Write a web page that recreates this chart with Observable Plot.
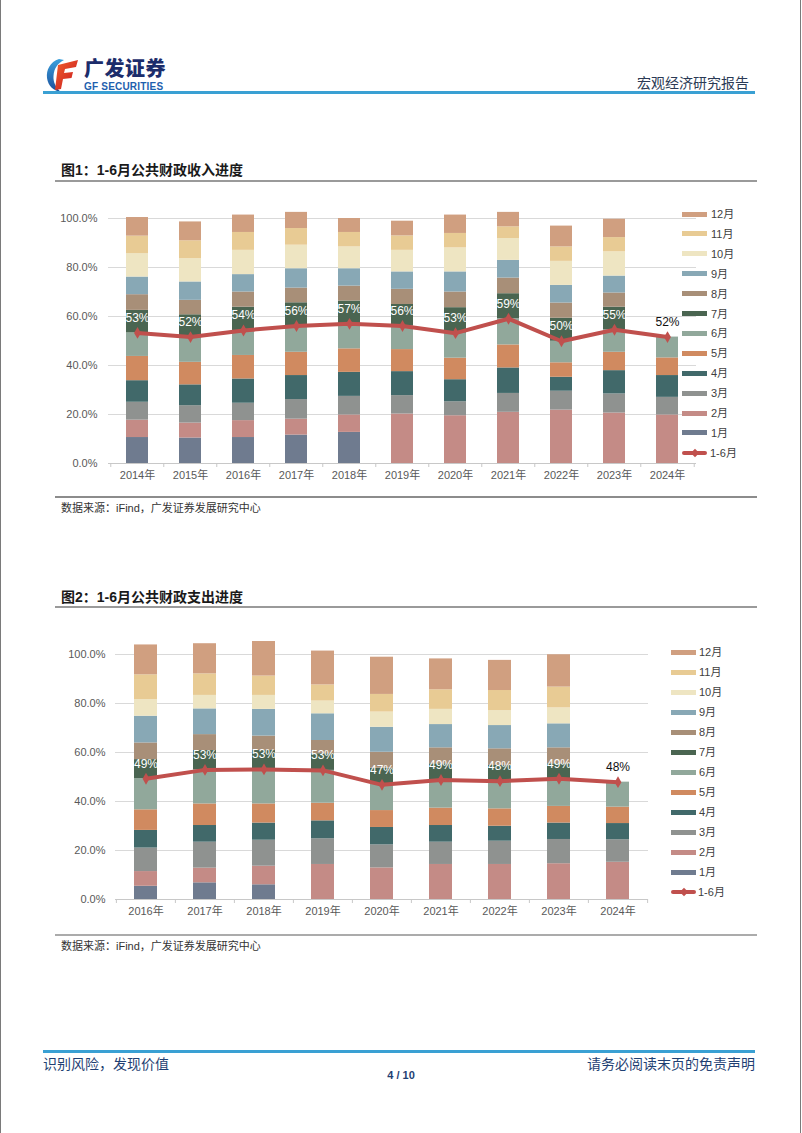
<!DOCTYPE html>
<html><head><meta charset="utf-8">
<script src="https://cdn.jsdelivr.net/npm/d3@7"></script>
<script src="https://cdn.jsdelivr.net/npm/@observablehq/plot@0.6"></script>
<style>
body{margin:0;background:#fff;}
#page{position:relative;width:802px;height:1133px;overflow:hidden;font-family:"Liberation Sans","Noto Sans CJK SC",sans-serif;color:#222;}
.a{position:absolute;white-space:nowrap;}
.sw{position:absolute;height:5px;width:25px;}
.lg{position:absolute;font-size:11px;line-height:14px;color:#404040;white-space:nowrap;}
svg{overflow:visible;}
</style></head><body><div id="page"></div>
<script>
// ---------- data ----------
const months = ["1月","2月","3月","4月","5月","6月","7月","8月","9月","10月","11月","12月"];
const monthColors = ["#6f7b8f","#c48b86","#8f9290","#41696a","#d08a60","#91a89b","#4a6551","#a88f78","#88a8b5","#eee5c2","#e8cb94","#d09f80"];
const lineName = "1-6月";
const lineColor = "#c0504d";

// Chart 1: cumulative revenue progress (%) by month, per year
const revYears = ["2014年","2015年","2016年","2017年","2018年","2019年","2020年","2021年","2022年","2023年","2024年"];
const rev2014 = [10.6, 17.7, 25.0, 33.8, 43.7, 53.3, 62.5, 68.9, 76.1, 85.7, 92.8, 100.4];
const rev2015 = [10.4, 16.5, 23.6, 32.1, 41.3, 51.6, 60.7, 66.6, 74.1, 83.6, 90.9, 98.6];
const rev2016 = [10.6, 17.5, 24.6, 34.5, 44.1, 54.3, 63.8, 70.0, 77.1, 87.0, 94.3, 101.4];
const rev2017 = [11.6, 18.1, 26.1, 35.9, 45.4, 56.1, 65.6, 71.6, 79.5, 89.1, 95.9, 102.5];
const rev2018 = [12.7, 19.8, 27.4, 37.2, 46.8, 57.0, 66.3, 72.4, 79.5, 88.4, 94.3, 100.0];
const rev2019 = [null, 20.2, 27.7, 37.5, 46.5, 56.1, 64.9, 71.1, 78.2, 87.0, 92.9, 98.9];
const rev2020 = [null, 19.5, 25.2, 34.2, 43.0, 53.2, 63.6, 70.0, 78.2, 88.0, 93.9, 101.4];
const rev2021 = [null, 20.9, 28.6, 39.0, 48.4, 59.1, 69.3, 75.7, 82.9, 91.8, 96.6, 102.5];
const rev2022 = [null, 21.8, 29.5, 35.2, 41.1, 49.9, 59.3, 65.5, 72.7, 82.5, 88.4, 96.9];
const rev2023 = [null, 20.6, 28.4, 37.9, 45.4, 54.6, 63.8, 69.6, 76.5, 86.4, 92.2, 99.7];
const rev2024 = [null, 19.8, 27.0, 35.9, 43.1, 51.6];
const revCum = [rev2014, rev2015, rev2016, rev2017, rev2018, rev2019, rev2020, rev2021, rev2022, rev2023, rev2024];

// Chart 2: cumulative expenditure progress (%) by month, per year
const expYears = ["2016年","2017年","2018年","2019年","2020年","2021年","2022年","2023年","2024年"];
const exp2016 = [5.4, 11.4, 21.0, 28.2, 36.6, 49.3, 57.1, 63.9, 74.8, 81.6, 91.7, 103.9];
const exp2017 = [6.8, 12.8, 23.4, 30.2, 39.0, 52.9, 60.8, 67.3, 77.8, 83.3, 92.1, 104.4];
const exp2018 = [6.0, 13.6, 24.2, 31.2, 39.0, 53.1, 60.8, 66.7, 77.6, 83.3, 91.2, 105.3];
const exp2019 = [null, 14.3, 24.8, 32.1, 39.3, 52.7, 59.5, 64.9, 75.8, 81.0, 87.6, 101.4];
const exp2020 = [null, 12.9, 22.3, 29.4, 36.3, 46.8, 53.6, 60.1, 70.3, 76.5, 83.7, 98.9];
const exp2021 = [null, 14.3, 23.4, 30.2, 37.3, 48.8, 55.4, 61.9, 71.4, 77.6, 85.6, 98.2];
const exp2022 = [null, 14.3, 23.8, 29.9, 37.0, 48.3, 54.7, 61.5, 71.0, 77.1, 85.3, 97.6];
const exp2023 = [null, 14.6, 24.5, 31.2, 38.0, 49.3, 55.4, 61.9, 71.7, 78.2, 86.7, 99.9];
const exp2024 = [null, 15.2, 24.4, 31.0, 37.7, 47.9];
const expCum = [exp2016, exp2017, exp2018, exp2019, exp2020, exp2021, exp2022, exp2023, exp2024];

const yTicks = [0, 20, 40, 60, 80, 100];

// ---------- helpers ----------
const page = document.getElementById("page");
function el(html, style, cls = "a") {
  const d = document.createElement("div");
  d.className = cls;
  d.innerHTML = html;
  d.setAttribute("style", style);
  page.appendChild(d);
  return d;
}

function chart(years, cums, o) {
  const rows = [];
  years.forEach((yr, i) => {
    let prev = 0;
    cums[i].forEach((v, j) => {
      if (v == null) return;
      rows.push({year: yr, month: months[j], y1: prev, y2: v});
      prev = v;
    });
  });
  const line = years.map((yr, i) => ({year: yr, v: cums[i][5]}));
  const step = (o.width - o.marginLeft - o.marginRight) / years.length;
  const last = years[years.length - 1];
  const fontFamily = '"Liberation Sans","Noto Sans CJK SC",sans-serif';
  return Plot.plot({
    width: o.width, height: o.height,
    marginLeft: o.marginLeft, marginRight: o.marginRight,
    marginTop: o.marginTop, marginBottom: o.marginBottom,
    style: {fontFamily, fontSize: "11px", background: "transparent", overflow: "visible"},
    x: {domain: years, paddingInner: o.pad, paddingOuter: o.pad / 2, label: null},
    y: {domain: [0, 100], label: null},
    color: {domain: months, range: monthColors},
    marks: [
      Plot.ruleY(yTicks.slice(1), {stroke: "#d9d9d9", strokeWidth: 1}),
      Plot.barY(rows, {x: "year", y1: "y1", y2: "y2", fill: "month"}),
      Plot.ruleY([0], {stroke: "#c8c8c8", strokeWidth: 1}),
      Plot.ruleX(years, {x: d => d, y1: 0, y2: 0, insetBottom: -4, dx: -step / 2, stroke: "#c8c8c8"}),
      Plot.ruleX([last], {x: d => d, y1: 0, y2: 0, insetBottom: -4, dx: step / 2, stroke: "#c8c8c8"}),
      Plot.line(line, {x: "year", y: "v", stroke: lineColor, strokeWidth: 4}),
      Plot.dot(line, {x: "year", y: "v", symbol: "diamond", r: 3.6, fill: lineColor}),
      Plot.text(line.slice(0, -1), {x: "year", y: "v", text: d => Math.round(d.v) + "%", dy: -15, fill: "white", fontSize: 12}),
      Plot.text(line.slice(-1), {x: "year", y: "v", text: d => Math.round(d.v) + "%", dy: -15, fill: "#111", fontSize: 12}),
      Plot.axisY({ticks: yTicks, tickFormat: d => d.toFixed(1) + "%", tickSize: 0, tickPadding: o.yPad, fill: "#595959", fontSize: 11}),
      Plot.axisX({tickSize: 0, tickPadding: 8, fill: "#595959", fontSize: 11})
    ]
  });
}

function legend(top0, swLeft, txtLeft, gap) {
  const items = months.slice().reverse();
  items.forEach((m, k) => {
    const cy = top0 + k * gap;
    el("", `top:${cy - 2.5}px;left:${swLeft}px;background:${monthColors[months.indexOf(m)]};`, "sw");
    el(m, `top:${cy - 7}px;left:${txtLeft}px;`, "lg");
  });
  const cy = top0 + items.length * gap;
  el("", `top:${cy - 2}px;left:${swLeft}px;width:25px;height:4px;background:${lineColor};border-radius:2px;`, "a");
  el("", `top:${cy - 3}px;left:${swLeft + 9.5}px;width:6px;height:6px;background:${lineColor};transform:rotate(45deg);`, "a");
  el(lineName, `top:${cy - 7}px;left:${txtLeft - 1}px;`, "lg");
}

// ---------- page frame ----------
el("", "top:0;left:0;width:1px;height:1133px;background:#7a7a7a;");
el("", "top:0;left:800px;width:1px;height:1133px;background:#7a7a7a;");

// header logo
el(`<svg width="36" height="36" viewBox="0 0 36 36">
  <defs><linearGradient id="rg" x1="0" y1="0" x2="1" y2="1"><stop offset="0" stop-color="#f0612e"/><stop offset="1" stop-color="#c9161d"/></linearGradient>
  <linearGradient id="bg" x1="0" y1="0" x2="0" y2="1"><stop offset="0" stop-color="#3aa0dc"/><stop offset="1" stop-color="#1b4f9c"/></linearGradient></defs>
  <path d="M14 2 C5 5 1 13 2 21 C3 29 9 34 16 35 C11 31 8 25 8.5 19 C9 11 13 6 19 3 Z" fill="url(#bg)"/>
  <path d="M13 8 L33 3 L31 10 L20 12 L19 16 L28 15 L26.5 21 L18 22 L16 32 L10 33 Z" fill="url(#rg)"/>
</svg>`, "top:57px;left:45px;");
el("广发证券", "top:56px;left:84px;font-size:20px;line-height:24px;font-weight:900;color:#1c2d6b;font-family:'Noto Sans CJK SC',sans-serif;letter-spacing:0.5px;");
el("GF SECURITIES", "top:81px;left:84px;font-size:10px;line-height:11px;font-weight:bold;color:#1e5fae;letter-spacing:0.2px;");
el("宏观经济研究报告", "top:74px;right:53px;font-size:14px;line-height:16px;color:#2b3a55;font-family:'Noto Sans CJK SC',sans-serif;");
el("", "top:91px;left:43px;width:712px;height:3px;background:#3aa0d3;");

// ---------- chart 1 ----------
el("图1：1-6月公共财政收入进度", "top:161px;left:61px;font-size:14px;line-height:19px;font-weight:bold;color:#1a1a1a;");
el("", "top:180px;left:55px;width:702px;height:2px;background:#9a9a9a;");
const c1 = chart(revYears, revCum, {width: 802, height: 300, marginLeft: 108, marginRight: 106, marginTop: 28, marginBottom: 27, pad: 0.594, yPad: 11});
const w1 = el("", "top:190px;left:0px;");
w1.appendChild(c1);
legend(214, 682, 711, 19.9);
el("", "top:496px;left:55px;width:702px;height:1.5px;background:#8c8c8c;");
el("数据来源：iFind，广发证券发展研究中心", "top:501px;left:61px;font-size:11px;line-height:14px;color:#333;");

// ---------- chart 2 ----------
el("图2：1-6月公共财政支出进度", "top:588px;left:61px;font-size:14px;line-height:19px;font-weight:bold;color:#1a1a1a;");
el("", "top:606px;left:55px;width:702px;height:2px;background:#9a9a9a;");
const c2 = chart(expYears, expCum, {width: 802, height: 305, marginLeft: 115, marginRight: 154, marginTop: 34, marginBottom: 26, pad: 0.606, yPad: 10});
const w2 = el("", "top:620px;left:0px;");
w2.appendChild(c2);
legend(652, 671, 699, 20);
el("", "top:934px;left:55px;width:702px;height:2px;background:#ababab;");
el("数据来源：iFind，广发证券发展研究中心", "top:939px;left:61px;font-size:11px;line-height:14px;color:#333;");

// ---------- footer ----------
el("", "top:1050px;left:43px;width:712px;height:3px;background:#3aa0d3;");
el("识别风险，发现价值", "top:1055px;left:43px;font-size:14px;line-height:17px;color:#1f3f73;font-family:'Noto Sans CJK SC',sans-serif;");
el("请务必阅读末页的免责声明", "top:1055px;right:47px;font-size:14px;line-height:17px;color:#1f3f73;font-family:'Noto Sans CJK SC',sans-serif;");
el("4 / 10", "top:1068px;left:381px;width:40px;text-align:center;font-size:11px;line-height:14px;font-weight:bold;color:#1f3f73;");
</script>
</body></html>
